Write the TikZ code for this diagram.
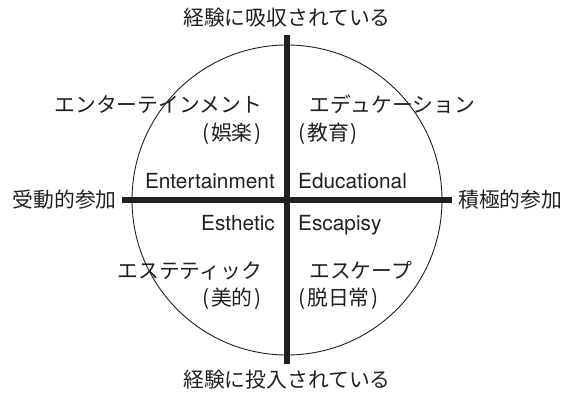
\documentclass[tikz,border=0pt]{standalone}
\usepackage{fontspec}
\setmainfont{TeX Gyre Heros}
\newfontfamily\jp{Noto Sans CJK JP}
\definecolor{ink}{HTML}{231F20}
\newcommand{\po}{(\hspace{2pt}}
\newcommand{\pc}{\hspace{2pt})}
\begin{document}
\begin{tikzpicture}[x=1pt,y=-1pt,
  jtxt/.style={inner sep=0pt,text=ink,font=\jp\fontsize{20.8}{22}\selectfont},
  etxt/.style={inner sep=0pt,text=ink,font=\fontsize{20.8}{22}\selectfont},
  axis/.style={line width=5.5pt,draw=ink},
  ring/.style={line width=0.9pt,draw=ink}]
\useasboundingbox (0,0) rectangle (565,393);
\coordinate (c) at (287,200);
\coordinate (top) at (287,35);
\coordinate (bot) at (287,364);
\coordinate (lft) at (122,200);
\coordinate (rgt) at (452,200);
\draw[ring] (c) circle (155pt);
\draw[axis] (top) -- (bot);
\draw[axis] (lft) -- (rgt);
\node[jtxt,anchor=base] (tt) at (287,25.5) {経験に吸収されている};
\node[jtxt,anchor=base] (bt) at (287,387.5) {経験に投入されている};
\node[jtxt,anchor=base east] (lt) at (117,207.5) {受動的参加};
\node[jtxt,anchor=base west] (rt) at (458,207.5) {積極的参加};
\node[jtxt,anchor=base east] (ent) at (262,112.5) {エンターテインメント};
\node[jtxt,anchor=base east] (entj) at (262,140.5) {\po 娯楽\pc};
\node[etxt,anchor=base east] (ente) at (275,188) {Entertainment};
\node[jtxt,anchor=base west] (edu) at (309,112.5) {エデュケーション};
\node[jtxt,anchor=base west] (eduj) at (298,140.5) {\po 教育\pc};
\node[etxt,anchor=base west] (edue) at (298,188) {Educational};
\node[etxt,anchor=base east] (este) at (275,230) {Esthetic};
\node[jtxt,anchor=base east] (est) at (262,278.5) {エステティック};
\node[jtxt,anchor=base east] (estj) at (262,305.5) {\po 美的\pc};
\node[etxt,anchor=base west] (esce) at (298,230) {Escapisy};
\node[jtxt,anchor=base west] (esc) at (309,278.5) {エスケープ};
\node[jtxt,anchor=base west] (escj) at (298,305.5) {\po 脱日常\pc};
\end{tikzpicture}
\end{document}
